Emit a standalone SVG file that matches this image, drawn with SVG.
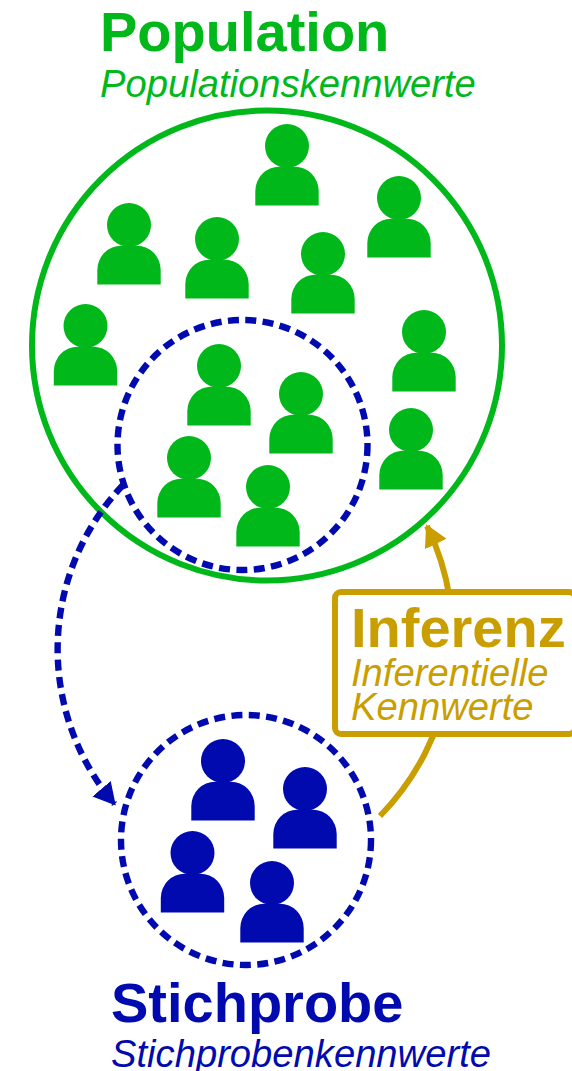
<svg xmlns="http://www.w3.org/2000/svg" xmlns:xlink="http://www.w3.org/1999/xlink" width="572" height="1071" viewBox="0 0 572 1071">
<style>
text{font-family:"Liberation Sans",Arial,sans-serif}
.t{font-weight:700;font-size:56px}
.s{font-style:italic;font-size:38.200px}
.g{fill:#00b81a}.b{fill:#000aae}.o{fill:#c99e00}
.ring{fill:none;stroke-width:6}
.dash{stroke:#000aae;stroke-width:6.400;stroke-dasharray:11 6.400}
</style>
<defs>
<symbol id="person" overflow="visible" width="1" height="1"><circle cx="0" cy="0" r="22"/><path d="M-31.700,59.500V45A24,24.300 0 0 1 -7.700,20.700H7.700A24,24.300 0 0 1 31.700,45V59.500Z"/></symbol>
<marker id="ab" markerUnits="userSpaceOnUse" markerWidth="30" markerHeight="30" refX="20" refY="12" orient="auto"><path d="M0,0L22,12L0,24Z" fill="#000aae"/></marker>
<marker id="ao" markerUnits="userSpaceOnUse" markerWidth="30" markerHeight="30" refX="20" refY="12" orient="auto"><path d="M0,0L22,12L0,24Z" fill="#c99e00"/></marker>
</defs>
<g id="population">
<circle class="ring" cx="267" cy="345.500" r="235" stroke="#00b81a"/>
<text class="t g" x="100" y="51">Population</text>
<text class="s g" x="100" y="97">Populationskennwerte</text>
</g>
<g id="population-people" class="g">
<use href="#person" x="287" y="146"/><use href="#person" x="399" y="198"/><use href="#person" x="129" y="225"/><use href="#person" x="217" y="239"/><use href="#person" x="323" y="254"/><use href="#person" x="85.500" y="326"/><use href="#person" x="424" y="332"/><use href="#person" x="411" y="430"/><use href="#person" x="219" y="366"/><use href="#person" x="301" y="394"/><use href="#person" x="189" y="458"/><use href="#person" x="268" y="487"/>
</g>
<g id="subset"><circle class="ring dash" cx="242.500" cy="445" r="125"/></g>
<g id="connectors" fill="none" stroke-width="6">
<path class="dash" d="M123,485A239,239 0 0 0 114.500,804" marker-end="url(#ab)"/>
<path stroke="#c99e00" d="M380,816A255,255 0 0 0 427,526" marker-end="url(#ao)"/>
</g>
<g id="stichprobe">
<circle class="ring dash" cx="246" cy="840" r="125"/>
<g class="b"><use href="#person" x="223" y="761"/><use href="#person" x="305" y="789"/><use href="#person" x="192.500" y="853"/><use href="#person" x="272" y="883"/></g>
<text class="t b" x="111" y="1022">Stichprobe</text>
<text class="s b" x="111" y="1067">Stichprobenkennwerte</text>
</g>
<g id="inferenz">
<rect x="335" y="592" width="240" height="142" rx="6" fill="#fff" stroke="#c99e00" stroke-width="6"/>
<text class="t o" x="351" y="647">Inferenz</text>
<text class="s o" x="351" y="686">Inferentielle</text>
<text class="s o" x="351" y="720">Kennwerte</text>
</g>
</svg>
